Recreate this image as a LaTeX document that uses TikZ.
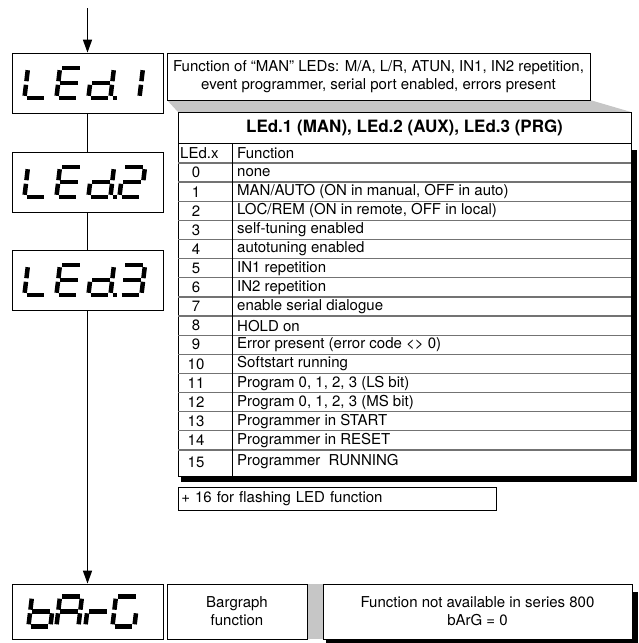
\documentclass[tikz,border=0pt]{standalone}
\usepackage{fontspec}
\setmainfont{TeX Gyre Heros}
\usetikzlibrary{arrows.meta}

% seven segment display: segments a..g and decimal point p
\def\ssda{(2.2,0) -- (19.8,0)}
\def\ssdb{(22,2.2) -- (22,13.2)}
\def\ssdc{(22,16.8) -- (22,27.8)}
\def\ssdd{(2.2,30) -- (19.8,30)}
\def\ssde{(0,16.8) -- (0,27.8)}
\def\ssdf{(0,2.2) -- (0,13.2)}
\def\ssdg{(2.2,15) -- (19.8,15)}
\def\ssdp{(25,30) -- (29,30)}
\tikzset{ssd/.pic={
  \begin{scope}[xslant=0.12]
  \foreach \s in {#1}{\expandafter\let\expandafter\segpath\csname ssd\s\endcsname
    \draw[seg] \segpath;}
  \end{scope}}}

\begin{document}
\begin{tikzpicture}[x=1pt,y=-1pt,>={Triangle[length=13pt,width=9pt]},
  box/.style={draw,line width=0.8pt,fill=white,inner sep=2pt},
  lab/.style={font=\fontsize{15}{18}\selectfont,align=center},
  row/.style={font=\fontsize{15}{17}\selectfont,anchor=west,inner sep=0pt},
  rowline/.style={draw=black!55,line width=1.3pt},
  flow/.style={line width=1.6pt},
  seg/.style={line width=4.5pt},
  display/.style={box,minimum width=151pt,minimum height=60pt,inner sep=0pt}]
\useasboundingbox (0,0) rectangle (638,643);
% displays on the left
\coordinate (top) at (87.5,8);
\node[display] (led1) at (87.5,83) {};
\node[display] (led2) at (87.5,182) {};
\node[display] (led3) at (87.5,280) {};
\node[display,minimum height=55pt] (barg) at (87.5,611.5) {};
\draw[flow,->] (top) -- (led1);
\draw[flow] (led1) -- (led2);
\draw[flow] (led2) -- (led3);
\draw[flow,->] (led3) -- (barg);
% display digits
\foreach \yt in {68,167,265}{
  \pic at (28,\yt) {ssd={f,e,d}};
  \pic at (60,\yt) {ssd={a,f,g,e,d}};
  \pic at (92,\yt) {ssd={g,c,d,e,b,p}};
}
\pic at (121,68) {ssd={b,c}};
\pic at (123,167) {ssd={a,b,g,e,d}};
\pic at (123,265) {ssd={a,b,g,c,d}};
\pic at (32,596.5) {ssd={f,e,d,c,g}};
\pic at (60,596.5) {ssd={a,b,c,e,f,g}};
\pic at (89,596.5) {ssd={e,g}};
\pic at (116,596.5) {ssd={a,f,e,d,c}};
% description and table
\fill (181,150) rectangle (637,482);
\fill[gray!45] (167,100) -- (590,100) -- (631,112) -- (178,112) -- cycle;
\node[box,lab,minimum width=423pt,minimum height=47pt,inner sep=0pt] (desc) at (378.5,76.5)
  {Function of ``MAN'' LEDs: M/A, L/R, ATUN, IN1, IN2 repetition,\\event programmer, serial port enabled, errors present};
\node[box,minimum width=453pt,minimum height=364pt,anchor=north west] (tab) at (178,112) {};
\node[font=\bfseries\fontsize{17}{19}\selectfont] (head) at (404.5,127.5) {LEd.1 (MAN), LEd.2 (AUX), LEd.3 (PRG)};
\draw[line width=1pt] (178,143) -- (631,143);
\node[row] (colx) at (180,153.5) {LEd.x};
\node[row] (colf) at (237,153.5) {Function};
\foreach \i in {0,...,15}
  \draw[rowline] (178,163+\i*19.13) -- (631,163+\i*19.13);
\draw[line width=0.8pt] (232,143) -- (232,476);
\foreach \txt [count=\i from 0] in {none, {MAN/AUTO (ON in manual, OFF in auto)},
  {LOC/REM (ON in remote, OFF in local)}, self-tuning enabled, autotuning enabled,
  IN1 repetition, IN2 repetition, enable serial dialogue, HOLD on,
  {Error present (error code <> 0)}, Softstart running, {Program 0, 1, 2, 3 (LS bit)},
  {Program 0, 1, 2, 3 (MS bit)}, Programmer in START, Programmer in RESET,
  Programmer~~RUNNING}{
  \pgfmathsetmacro\yc{\i<15 ? 172.6+\i*19.13 : 462}
  \node[row,anchor=center] (n\i) at (196,\yc) {\i};
  \node[row] (f\i) at (237,\yc) {\txt};
}
\node[box,row,anchor=north west,text width=312pt,inner sep=3pt,minimum height=23pt] (flash) at (178,487) {+ 16 for flashing LED function};
% bargraph row
\fill (326,592) rectangle (638,643);
\fill[gray!45] (307,584) rectangle (323,639);
\node[box,lab,minimum width=140pt,minimum height=55pt] (bar) at (237,611.5) {Bargraph\\function};
\node[box,lab,minimum width=309pt,minimum height=55pt] (na) at (477.5,611.5) {Function not available in series 800\\bArG = 0};
\end{tikzpicture}
\end{document}
